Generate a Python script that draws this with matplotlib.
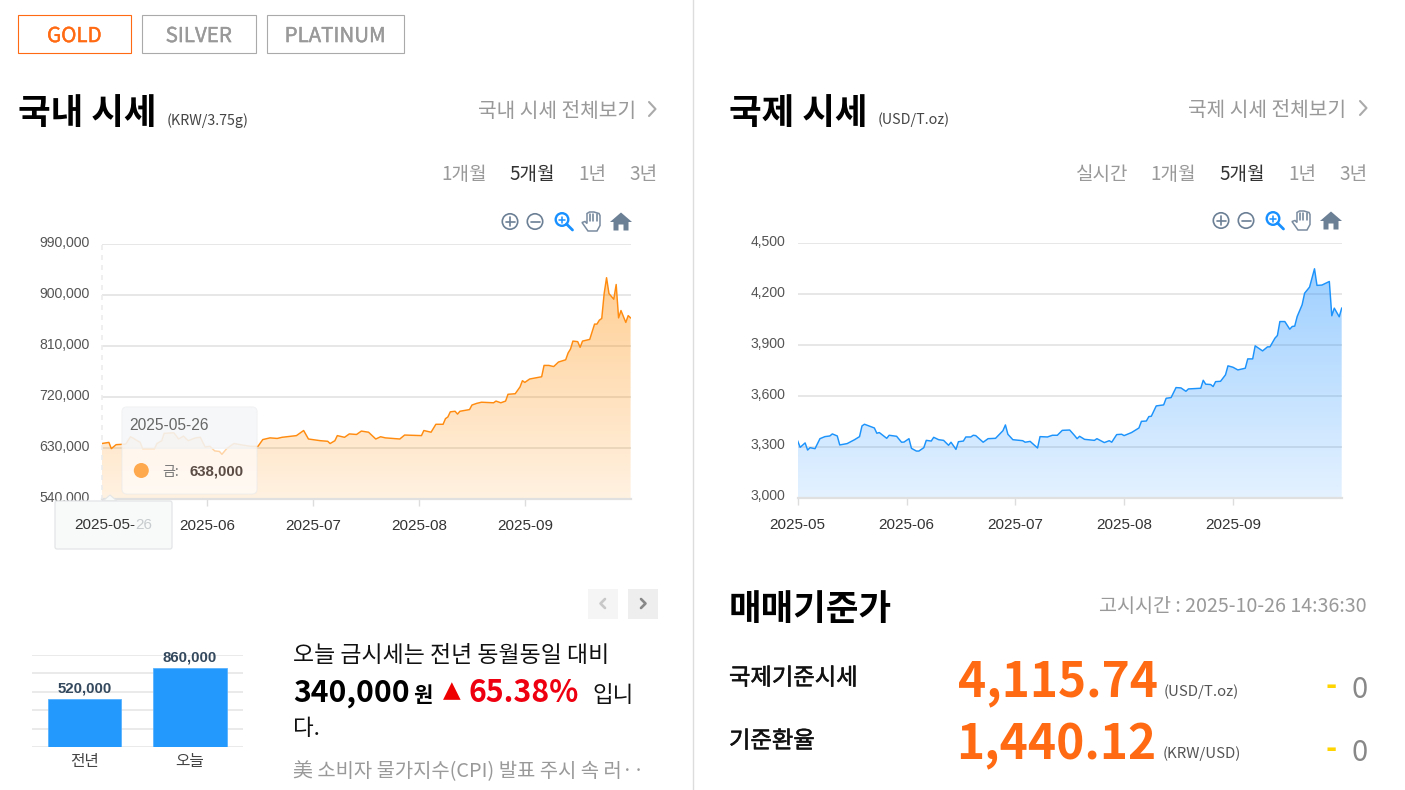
import numpy as np
import matplotlib
matplotlib.use("Agg")
import matplotlib.pyplot as plt
import matplotlib.patheffects as pe
from matplotlib.patches import Rectangle, FancyBboxPatch, Circle, Polygon
from matplotlib.transforms import ScaledTranslation
from matplotlib.ticker import FuncFormatter

KR = ['Noto Sans CJK KR', 'DejaVu Sans']
AR = ['Liberation Sans', 'DejaVu Sans']
plt.rcParams['font.family'] = KR

# ---------- data ----------
month_labels = ['2025-05', '2025-06', '2025-07', '2025-08', '2025-09']
month_sessions = [0, 44, 88, 132, 176]

kr_sessions = [0,3,4,6,10,12,16,17,22,23,25,26,30,32,34,36,39,41,43,45,47,49,50,52,55,59,62,65,67,70,73,75,81,84,86,91,94,95,97,98,
               99,101,103,106,108,111,114,116,118,124,126,133,134,137,139,142,143,144,145,147,148,149,153,154,156,158,163,164,166,168,
               169,172,174,175,176,178,183,184,186,188,190,193,194,195,196,198,199,200,203,205,206,207,208,209,210,211,213,214,215,216,218,219,220]
kr_prices = [638,640,629,636,637,650,640,629,629,638,643,656,657,646,651,643,648,649,632,633,625,624,619,629,638,635,633,633,645,648,647,649,652,661,646,643,642,638,643,652,
             651,649,655,654,660,658,646,650,648,646,653,652,661,658,672,672,682,685,694,695,690,695,698,706,709,711,710,713,710,713,
             725,726,738,749,746,752,756,776,776,774,782,786,798,805,819,818,808,819,822,849,849,856,859,903,931,903,893,919,860,873,852,864,860]
kr_prices = [v * 1000 for v in kr_prices]

intl_sessions = [0,1,3,4,5,7,9,11,13,14,16,17,20,23,25,26,27,31,32,33,36,37,40,42,43,45,46,48,49,51,52,54,55,57,59,61,62,64,65,67,68,70,71,72,75,77,80,82,83,84,85,87,91,92,94,97,98,101,103,105,
                 107,110,112,113,114,116,120,121,124,126,127,129,131,132,135,138,139,141,142,143,145,148,149,151,153,155,157,158,163,164,165,167,168,169,171,173,174,176,178,181,182,184,185,188,190,191,193,194,195,197,199,200,201,202,204,205,207,209,210,212,215,216,217,219,220]
intl_prices = [3335,3298,3324,3282,3296,3290,3349,3361,3365,3377,3365,3312,3320,3343,3361,3424,3434,3412,3381,3385,3351,3369,3363,3328,3329,3349,3292,3276,3276,3296,3339,3335,3357,3343,3339,3310,3328,3286,3331,3335,3359,3359,3369,3367,3328,3349,3351,3381,3396,3430,3375,3343,3337,3328,3333,3294,3361,3359,3369,3369,
               3398,3400,3367,3349,3363,3345,3339,3349,3326,3337,3328,3373,3375,3367,3385,3412,3451,3453,3479,3481,3542,3548,3587,3591,3650,3648,3628,3642,3646,3693,3670,3668,3656,3685,3687,3725,3778,3770,3754,3764,3819,3819,3896,3866,3890,3890,3941,3957,4039,4039,3994,4010,4012,4069,4138,4206,4242,4350,4252,4254,4275,4073,4118,4067,4118]

kr_yticks = [540000, 630000, 720000, 810000, 900000, 990000]
intl_yticks = [3000, 3300, 3600, 3900, 4200, 4500]

bar_categories = ['전년', '오늘']
bar_values = [520000, 860000]

W, H = 1405, 790
fig = plt.figure(figsize=(W / 100, H / 100), dpi=100, facecolor='white')


def rect_axes(x0, y0, x1, y1):
    """axes from pixel box (y measured from top)"""
    return fig.add_axes([x0 / W, 1 - y1 / H, (x1 - x0) / W, (y1 - y0) / H])


def area_chart(box, xs, ys, yticks, line_color, rgb, xlabels):
    ax = rect_axes(*box)
    ax.patch.set_alpha(0)
    ax.set_xlim(0, 220)
    ax.set_ylim(yticks[0], yticks[-1])
    ax.set_yticks(yticks)
    ax.set_xticks(month_sessions)
    ax.set_xticklabels(xlabels, fontsize=11, family=AR, color='#333333')
    ax.yaxis.set_major_formatter(FuncFormatter(lambda v, p: f'{int(v):,}'))
    ax.grid(axis='y', color='#e0e0e0', lw=1.1, zorder=1)
    ax.set_axisbelow(True)
    for s in ['top', 'left', 'right']:
        ax.spines[s].set_visible(False)
    ax.spines['bottom'].set_color('#e0e0e0')
    ax.spines['bottom'].set_linewidth(1.6)
    ax.tick_params(axis='y', length=0, pad=8.8, labelsize=10.1, labelcolor='#555555')
    ax.tick_params(axis='x', length=5, width=1, color='#dddddd', pad=9.5)
    off = ScaledTranslation(0, 3 / 100, fig.dpi_scale_trans)
    for lab in ax.get_yticklabels():
        lab.set_family(AR)
        lab.set_transform(lab.get_transform() + off)
    poly = ax.fill_between(xs, ys, yticks[0], color='none', lw=0)
    alpha = np.linspace(0.42, 0.12, 256)[:, None]
    img = np.zeros((256, 1, 4))
    img[..., 0], img[..., 1], img[..., 2] = rgb
    img[..., 3] = alpha
    im = ax.imshow(img, extent=[0, 220, yticks[0], max(ys)], aspect='auto', zorder=2, interpolation='bilinear')
    im.set_clip_path(poly.get_paths()[0], transform=ax.transData)
    ax.set_xlim(0, 220)
    ax.set_ylim(yticks[0], yticks[-1])
    ax.plot(xs, ys, color=line_color, lw=1.05, zorder=3, solid_joinstyle='round')
    return ax


# the first domestic month label is hidden behind the axis-pointer label (drawn below)
ax_kr = area_chart((101.7, 244.3, 630.6, 499), kr_sessions, kr_prices, kr_yticks, '#ff8c10', (1, 0.55, 0),
                   [''] + month_labels[1:])
ax_in = area_chart((797.7, 243.3, 1341.7, 497.9), intl_sessions, intl_prices, intl_yticks, '#1c93fb', (0.10, 0.56, 1),
                   month_labels)

# small bar chart
ax_b = rect_axes(32, 655, 242.5, 747)
ax_b.patch.set_alpha(0)
ax_b.set_xlim(-0.5, 1.5)
ax_b.set_ylim(0, 1000000)
ax_b.set_yticks(range(0, 1000001, 200000))
ax_b.set_yticklabels([])
ax_b.grid(axis='y', color='#e4e4e4', lw=1.1)
ax_b.set_axisbelow(True)
ax_b.tick_params(length=0)
for s in ax_b.spines.values():
    s.set_visible(False)
bars = ax_b.bar(range(2), bar_values, width=0.7, color='#2399fd', edgecolor='#58b2fd', lw=0.6)
ax_b.set_xticks(range(2))
ax_b.set_xticklabels(bar_categories, fontsize=11.3, color='#444444')
ax_b.tick_params(axis='x', pad=4)
for b, v in zip(bars, bar_values):
    ax_b.annotate(f'{v:,}', (b.get_x() + b.get_width() / 2, v), xytext=(0, 2.5), textcoords='offset points',
                  ha='center', va='bottom', fontsize=10.8, fontweight='bold', color='#34495e', family=AR)

# overlay in pixel space for page furniture
ov = fig.add_axes([0, 0, 1, 1], zorder=10)
ov.set_xlim(0, W)
ov.set_ylim(H, 0)
ov.axis('off')
ov.patch.set_alpha(0)


def T(x, y, s, px=16, color='#000000', ha='left', va='center', weight='normal', family=KR, stroke=0):
    if family is KR:
        y = y + 0.1 * px
    t = ov.text(x, y, s, fontsize=px * 0.72, color=color, ha=ha, va=va, fontweight=weight, family=family)
    if stroke:
        t.set_path_effects([pe.withStroke(linewidth=stroke, foreground=color)])
    return t


def L(xs, ys, color='#888888', lw=1.0, **kw):
    ov.plot(xs, ys, color=color, lw=lw, solid_capstyle=kw.pop('cap', 'round'), **kw)


ov.plot([693, 693], [0, 790], color='#dddddd', lw=1)

# tabs
for (x0, x1, s, c, e) in [(18, 131.5, 'GOLD', '#ff6a13', '#ff6a13'), (142, 256.5, 'SILVER', '#999999', '#aaaaaa'),
                          (267, 404.5, 'PLATINUM', '#999999', '#aaaaaa')]:
    ov.add_patch(Rectangle((x0, 15), x1 - x0 - 0.5, 38, fc='white', ec=e, lw=0.8))
    T((x0 + x1) / 2 - 0.5, 34, s, px=20.5, color=c, ha='center', stroke=0.3)

# headers
T(18, 110, '국내 시세', px=35.5, weight='bold')
T(167, 119, '(KRW/3.75g)', px=14.3, color='#444444')
T(636, 109, '국내 시세 전체보기', px=20.3, color='#999999', ha='right')
T(729, 110, '국제 시세', px=35.5, weight='bold')
T(878, 118, '(USD/T.oz)', px=14.3, color='#444444')
T(1346, 108, '국제 시세 전체보기', px=20.3, color='#999999', ha='right')
for x, y in [(649, 109), (1360, 108)]:
    L([x, x + 6.5, x], [y - 7, y, y + 7], color='#aaaaaa', lw=1.5)

for x, s, c in [(441, '1개월', '#999999'), (509, '5개월', '#333333'), (578, '1년', '#999999'), (629, '3년', '#999999'),
                (1076, '실시간', '#999999'), (1150, '1개월', '#999999'), (1219, '5개월', '#333333'), (1288, '1년', '#999999'),
                (1339, '3년', '#999999')]:
    T(x, 173, s, px=19, color=c)


def toolbar(x_plus, x_minus, x_zoom, x_hand, x_home, y):
    g = '#6b7f95'
    b = '#1890ff'
    ov.add_patch(Circle((x_plus, y), 7.7, fc='none', ec=g, lw=1.2))
    L([x_plus - 4.5, x_plus + 4.5], [y, y], g, 1.2)
    L([x_plus, x_plus], [y - 4.5, y + 4.5], g, 1.2)
    ov.add_patch(Circle((x_minus, y), 7.7, fc='none', ec=g, lw=1.2))
    L([x_minus - 4.5, x_minus + 4.5], [y, y], g, 1.2)
    ov.add_patch(Circle((x_zoom - 2, y - 2), 6.3, fc='none', ec=b, lw=1.7))
    L([x_zoom - 5, x_zoom + 1], [y - 2, y - 2], b, 1.1)
    L([x_zoom - 2, x_zoom - 2], [y - 5, y + 1], b, 1.1)
    L([x_zoom + 2.5, x_zoom + 8.5], [y + 2.5, y + 8.5], b, 2)
    hx = x_hand
    ov.add_patch(Polygon([(hx - 9, y + 1), (hx - 6, y), (hx - 4, y + 2), (hx - 4, y - 8), (hx - 1.5, y - 9.5), (hx + 3, y - 9.5),
                          (hx + 8, y - 8), (hx + 9, y - 6), (hx + 9, y + 4), (hx + 6, y + 9.5), (hx - 3, y + 9.5)],
                         closed=True, fc='white', ec=g, lw=1.1, alpha=.9))
    for dx in [-1, 2, 5.5]:
        L([hx + dx, hx + dx], [y - 8, y - 1], g, 1.1)
    ov.add_patch(Polygon([(x_home - 11, y + 0.5), (x_home, y - 9), (x_home + 11, y + 0.5), (x_home + 7.5, y + 0.5), (x_home + 7.5, y + 9),
                          (x_home + 2.5, y + 9), (x_home + 2.5, y + 3), (x_home - 2.5, y + 3), (x_home - 2.5, y + 9),
                          (x_home - 7.5, y + 9), (x_home - 7.5, y + 0.5)], closed=True, fc=g, ec='none'))


toolbar(510, 535, 564, 591, 621, 221.5)
toolbar(1221, 1246, 1275, 1301, 1331, 220.5)

# pointer + tooltip on domestic chart
ov.plot([101.5, 101.5], [245, 499], color='#ececec', lw=1.2, ls=(0, (3, 3)))
ov.add_patch(FancyBboxPatch((125, 410), 129, 81, boxstyle='round,pad=3,rounding_size=5', fc='white', ec='#e9e9e9', lw=0.8, alpha=0.62))
ov.add_patch(FancyBboxPatch((125, 410), 129, 36, boxstyle='round,pad=3,rounding_size=5', fc='#f2f4f6', ec='none', alpha=0.72))
T(129, 426, '2025-05-26', px=15.5, color='#666666', family=AR)
ov.add_patch(Circle((141.3, 470.5), 7.5, fc='#ffa94f', ec='none'))
T(162, 471, '금:', px=14, color='#777777')
T(190, 471, '638,000', px=15, color='#5b4d45', weight='bold', family=AR)

ov.add_patch(Polygon([(103, 501), (110, 495), (117, 501)], closed=True, fc='#f8fafa', ec='#e3e5e6', lw=0.8))
ov.add_patch(FancyBboxPatch((57, 503), 113, 44, boxstyle='round,pad=2,rounding_size=2', fc='#f8fafa', ec='#e3e5e6', lw=0.9))
T(74, 525, '2025-05-', px=15.2, color='#333333', family=AR)
T(135, 525, '26', px=15.2, color='#c8ccce', family=AR)

# nav buttons
ov.add_patch(Rectangle((588, 589), 30, 29.5, fc='#f5f5f5', ec='none'))
ov.add_patch(Rectangle((628, 589), 30, 29.5, fc='#eeeeee', ec='none'))
L([605, 600.5, 605], [599, 603.5, 608], '#c8c8c8', 1.9)
L([641, 645.5, 641], [599, 603.5, 608], '#888888', 1.9)

# summary text
T(293, 653, '오늘 금시세는 전년 동월동일 대비', px=22.9, color='#111111')
T(293, 690, '340,000', px=30, weight='bold')
T(413.5, 693, '원', px=21, weight='bold')
T(443, 691, '▲', px=23, color='#ee0000', family=['DejaVu Sans'])
T(469, 690, '65.38%', px=30.3, color='#ee0011', weight='bold')
T(592, 693, '입니', px=22.5, color='#111111')
T(293, 726, '다.', px=22.5, color='#111111')
T(293, 770, '美 소비자 물가지수(CPI) 발표 주시 속 러··', px=19.9, color='#999999')

# reference rate panel
T(729, 606, '매매기준가', px=35.5, weight='bold')
T(1367, 605, '고시시간 : 2025-10-26 14:36:30', px=19.6, color='#999999', ha='right')
T(729, 676, '국제기준시세', px=23.3, color='#111111', stroke=0.4)
T(729, 739, '기준환율', px=23.3, color='#111111', stroke=0.4)
T(958, 678, '4,115.74', px=47.8, color='#ff6a13', weight='bold')
T(956.5, 741, '1,440.12', px=47.8, color='#ff6a13', weight='bold')
T(1164, 690, '(USD/T.oz)', px=15, color='#555555')
T(1163, 752, '(KRW/USD)', px=15, color='#555555')
T(1331, 683, '-', px=30, color='#ffd400', ha='center', weight='bold')
T(1331, 746, '-', px=30, color='#ffd400', ha='center', weight='bold')
T(1360, 687, '0', px=29, color='#888888', ha='center')
T(1360, 750, '0', px=29, color='#888888', ha='center')

fig.savefig('out.png', dpi=100, facecolor='white')
